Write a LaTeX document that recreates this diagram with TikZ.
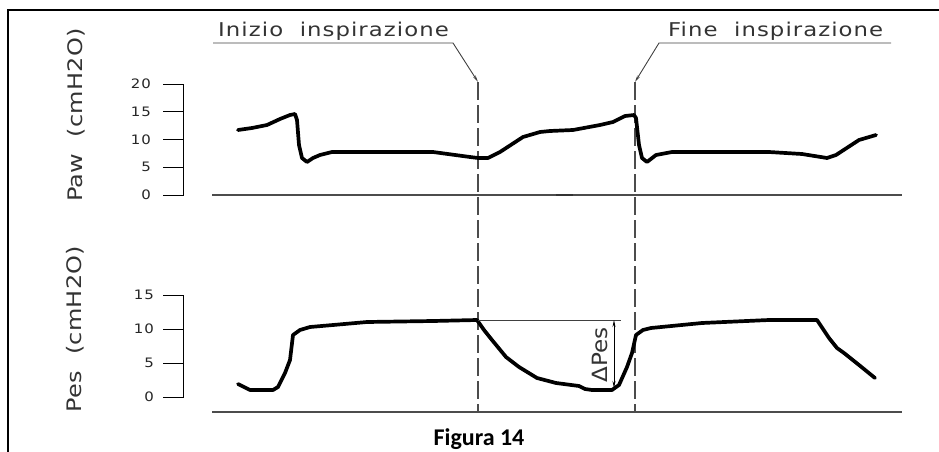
\documentclass[tikz,border=0pt]{standalone}
\usepackage{fontspec}
\setmainfont{DejaVu Sans}
\newfontfamily\cadfont[FakeStretch=1.2,LetterSpace=5.5]{DejaVu Sans}
\newfontfamily\cadyfont[FakeStretch=1.2,LetterSpace=1.5]{DejaVu Sans}
\newfontfamily\caddfont[FakeStretch=1.1]{DejaVu Sans}
\newfontfamily\numfont[FakeStretch=1.15,LetterSpace=6]{DejaVu Sans}
\newfontfamily\capfont{Carlito}
\usetikzlibrary{arrows.meta}
\begin{document}
\begin{tikzpicture}[x=1pt,y=-1pt,
  frame/.style={line width=2.4pt,black},
  wave/.style={line width=3.7pt,black,line join=round,line cap=round},
  baseline/.style={line width=1.4pt,black!70},
  axisline/.style={line width=1pt,black},
  marker/.style={line width=1.2pt,black!70,dash pattern=on 18pt off 5pt},
  leader/.style={line width=0.9pt,black!75},
  lbl/.style={font=\cadfont\fontsize{19}{19}\selectfont,text=black!80,inner sep=0pt},
  ylbl/.style={font=\cadyfont\fontsize{20}{20}\selectfont,text=black!80,inner sep=0pt,rotate=90,anchor=base},
  ticklbl/.style={font=\numfont\fontsize{13}{13}\selectfont,anchor=east,inner sep=0pt,text=black!85},
  tip/.style={-{Stealth[length=7pt,width=3pt]}},
]
\useasboundingbox (0,0) rectangle (939,452);
\draw[frame] (8,453) -- (8,10) -- (941,10);

% top labels with leaders
\node[lbl,anchor=base west] (ini) at (218,37) {Inizio\ \ inspirazione};
\node[lbl,anchor=base west] (fine) at (668,37) {Fine\ \ inspirazione};
\coordinate (iniTip) at (478,82);
\coordinate (fineTip) at (635,82);
\coordinate (iniEnd) at (478,412);
\coordinate (fineEnd) at (635,412);
\draw[leader,tip] (213,43) -- (453,43) -- (iniTip);
\draw[leader,tip] (891,43) -- (659,43) -- (fineTip);
\draw[marker] (iniTip) -- (iniEnd);
\draw[marker] (fineTip) -- (fineEnd);

% axis labels
\node[ylbl] (pawlbl) at (82,115) {Paw\ \ (cmH2O)};
\node[ylbl] (peslbl) at (81,329) {Pes\ \ (cmH2O)};

% Paw axis
\draw[axisline] (163,84) -- (183,84) -- (183,195) -- (163,195);
\foreach \v/\y in {20/84,15/111.75,10/139.5,5/167.25,0/195}{
  \draw[axisline] (163,\y) -- (183,\y);
  \node[ticklbl] (paw\v) at (151,\y) {\v};
}
% Pes axis
\draw[axisline] (163,295) -- (183,295) -- (183,397) -- (163,397);
\foreach \v/\y in {15/295,10/329,5/363,0/397}{
  \draw[axisline] (163,\y) -- (183,\y);
  \node[ticklbl] (pes\v) at (154,\y) {\v};
}

% baselines
\draw[baseline] (212,195) -- (902,195);
\draw[line width=2.4pt,black!80] (556,195) -- (573,195);
\draw[baseline] (212,412) -- (902,412);

% Paw curve
\draw[wave] (238,130) -- (252,128) -- (267,125) -- (280,119) -- (290,115) -- (295,114)
  -- (297,120) -- (299,145) -- (302,158) -- (307,162) -- (313,158) -- (320,155)
  -- (332,152) -- (367,152) -- (433,152) -- (470,157) -- (478,158) -- (488,158)
  -- (500,152) -- (523,137) -- (540,132) -- (550,131) -- (573,130) -- (600,125)
  -- (613,122) -- (625,116) -- (634,115) -- (636,118) -- (639,145) -- (642,158)
  -- (647,162) -- (656,155) -- (672,152) -- (769,152) -- (802,154) -- (827,158)
  -- (836,155) -- (859,140) -- (876,135);

% Pes curve
\draw[wave] (238,384) -- (250,390) -- (273,390) -- (278,387) -- (285,373) -- (290,360)
  -- (293,335) -- (300,330) -- (310,327) -- (333,325) -- (367,322) -- (433,321)
  -- (477,320) -- (484,330) -- (492,340) -- (506,357) -- (519,367) -- (537,378)
  -- (556,383) -- (579,386) -- (585,389) -- (592,390) -- (612,390) -- (619,385)
  -- (627,367) -- (632,353) -- (636,335) -- (643,330) -- (651,328) -- (702,323)
  -- (769,320) -- (817,320) -- (829,338) -- (837,348) -- (844,353) -- (859,365)
  -- (875,378);

% Delta Pes
\coordinate (dTop) at (614,320);
\coordinate (dBot) at (614,388);
\draw[leader] (478,320) -- (621,320);
\draw[line width=0.8pt,black,{Stealth[length=7pt,width=3pt]}-{Stealth[length=7pt,width=3pt]}] (dTop) -- (dBot);
\node[ylbl,font=\caddfont\fontsize{21}{21}\selectfont] (dpes) at (607,355) {ΔPes};

% caption
\node[font=\capfont\bfseries\fontsize{24}{24}\selectfont,anchor=base,inner sep=0pt] (cap) at (479,445) {Figura 14};
\end{tikzpicture}
\end{document}
